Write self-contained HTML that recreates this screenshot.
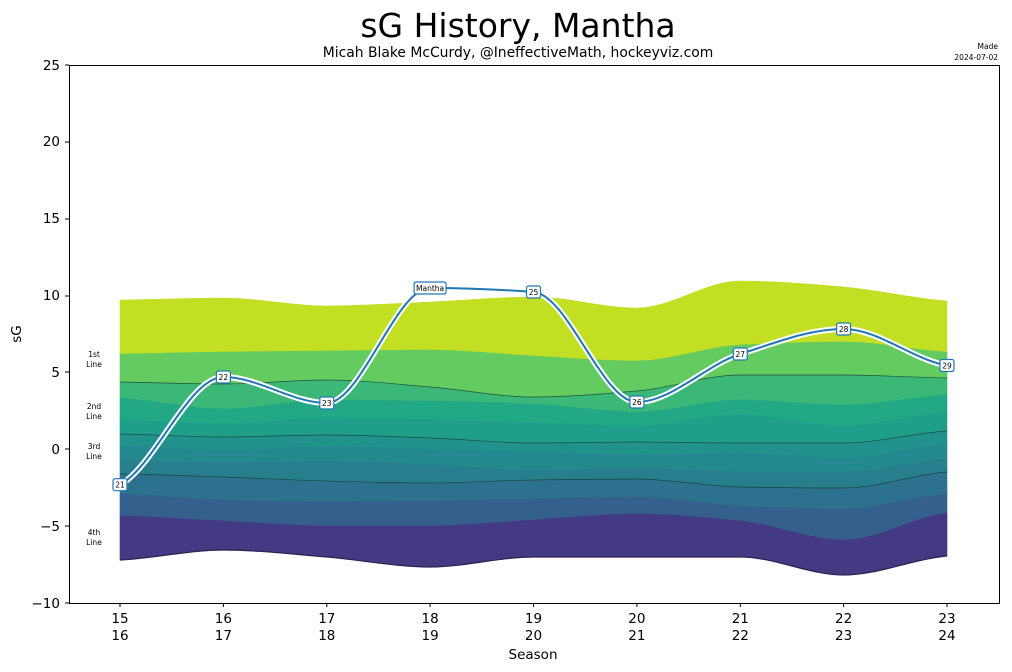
<!DOCTYPE html>
<html><head><meta charset="utf-8"><style>
html,body{margin:0;padding:0;background:#fff;}
svg{display:block;font-family:"DejaVu Sans","Liberation Sans",sans-serif;}
</style></head><body>
<svg id="s" width="1012" height="672" viewBox="0 0 1012 672" xmlns="http://www.w3.org/2000/svg">
<text x="518" y="37" font-size="33" text-anchor="middle">sG History, Mantha</text>
<text x="518" y="57" font-size="13.9" text-anchor="middle">Micah Blake McCurdy, @IneffectiveMath, hockeyviz.com</text>
<text x="998" y="49" font-size="7.5" text-anchor="end">Made</text>
<text x="998" y="60" font-size="7.5" text-anchor="end">2024-07-02</text>
<g id="bands"></g>
<g id="lines"></g>
<g id="mline"></g>
<rect x="69.5" y="65.5" width="930" height="538" fill="none" stroke="#000" stroke-width="1"/>
<g font-size="13.5" text-anchor="end">
<text x="60" y="70">25</text><text x="60" y="146">20</text><text x="60" y="223">15</text><text x="60" y="300">10</text><text x="60" y="377">5</text><text x="60" y="454">0</text><text x="60" y="531">−5</text><text x="60" y="608">−10</text>
</g>
<g stroke="#000"><line x1="65" x2="69" y1="65" y2="65"/><line x1="65" x2="69" y1="142" y2="142"/><line x1="65" x2="69" y1="219" y2="219"/><line x1="65" x2="69" y1="296" y2="296"/><line x1="65" x2="69" y1="372" y2="372"/><line x1="65" x2="69" y1="449" y2="449"/><line x1="65" x2="69" y1="526" y2="526"/><line x1="65" x2="69" y1="603" y2="603"/></g>
<g id="xt" font-size="13.5" text-anchor="middle"></g>
<text x="533" y="659" font-size="13.5" text-anchor="middle">Season</text>
<text transform="translate(21,334) rotate(-90)" font-size="13.5" text-anchor="middle">sG</text>
<g font-size="7.5" text-anchor="middle">
<text x="94" y="357">1st</text><text x="94" y="367">Line</text>
<text x="94" y="409">2nd</text><text x="94" y="419">Line</text>
<text x="94" y="449">3rd</text><text x="94" y="459">Line</text>
<text x="94" y="535">4th</text><text x="94" y="545">Line</text>
</g>
</svg>
<script>
const X=[120,223.4,326.8,430.1,533.5,636.9,740.3,843.6,947];
const B=[
[300,298,306,302,297,308,281,287,301],
[354,352,351,350,356,361,345,342,352],
[382,384,380,387,397,391,375,375,378],
[398,409,400,401,404,412,400,405,395],
[420,424,418,420,423,426,415,426,412],
[434,437,435,438,443,442,443,443,431],
[446,450,447,449,452,455,453,458,444],
[460,463,461,465,470,468,472,472,459],
[474,477,481,483,480,479,487,488,472],
[494,500,502,501,499,497,506,509,494],
[516,521,526,526,520,514,521,540,513],
[560,550,557,567,557,557,557,575,556]];
const C=["#c2df23","#63cb5f","#3bb877","#22a884","#1f9e89","#21918c","#23898e","#277f8e","#2c728e","#355f8d","#443983"];
function seg(xs,ys,rev){let p=xs.map((x,i)=>[x,ys[i]]);if(rev)p.reverse();const n=p.length;
const h=[],dl=[];for(let i=0;i<n-1;i++){h.push(p[i+1][0]-p[i][0]);dl.push((p[i+1][1]-p[i][1])/h[i]);}
const m=[];for(let i=0;i<n;i++){if(i==0)m.push(dl[0]*0.5);else if(i==n-1)m.push(dl[n-2]*0.5);else{
if(dl[i-1]*dl[i]<=0)m.push(0);else{const w1=2*h[i]+h[i-1],w2=h[i]+2*h[i-1];m.push((w1+w2)/(w1/dl[i-1]+w2/dl[i]));}}}
let d="";for(let i=0;i<n-1;i++){const p1=p[i],p2=p[i+1],hh=h[i];
d+=` C${p1[0]+hh/3},${p1[1]+m[i]*hh/3} ${p2[0]-hh/3},${p2[1]-m[i+1]*hh/3} ${p2[0]},${p2[1]}`;}
return {s:p[0],d};}
let bh="";
for(let k=0;k<11;k++){const a=seg(X,B[k]),b=seg(X,B[k+1],true);
bh+=`<path d="M${a.s[0]},${a.s[1]}${a.d} L${b.s[0]},${b.s[1]}${b.d} Z" fill="${C[k]}" stroke="${C[k]}" stroke-width="0.6"/>`;}
document.getElementById("bands").innerHTML=bh;
let lh="";
for(const k of [2,5,8]){const a=seg(X,B[k]);lh+=`<path d="M${a.s[0]},${a.s[1]}${a.d}" fill="none" stroke="#1a3a30" stroke-width="0.7" opacity="0.8"/>`;}
{const a=seg(X,B[11]);lh+=`<path d="M${a.s[0]},${a.s[1]}${a.d}" fill="none" stroke="#2a2350" stroke-width="1.2"/>`;}
document.getElementById("lines").innerHTML=lh;
const M=[484.7,377,403,288,292,402,354,329,365.5];
const L=["21","22","23","Mantha","25","26","27","28","29"];
const m=seg(X,M);const md=`M${m.s[0]},${m.s[1]}${m.d}`;
let mh=`<path d="${md}" fill="none" stroke="#fff" stroke-width="6"/><path d="${md}" fill="none" stroke="#1f77b4" stroke-width="2"/>`;
for(let i=0;i<9;i++){const w=L[i].length>2?32:14;
mh+=`<rect x="${X[i]-w/2}" y="${M[i]-6}" width="${w}" height="12" rx="2" fill="#fff" stroke="#1f77b4" stroke-width="1.2"/><text x="${X[i]}" y="${M[i]+3}" font-size="7.5" text-anchor="middle">${L[i]}</text>`;}
document.getElementById("mline").innerHTML=mh;
let xt="";for(let i=0;i<9;i++){xt+=`<line x1="${X[i]}" x2="${X[i]}" y1="603" y2="607" stroke="#000"/><text x="${X[i]}" y="623">${15+i}</text><text x="${X[i]}" y="640">${16+i}</text>`;}
document.getElementById("xt").innerHTML=xt;
</script>
</body></html>
